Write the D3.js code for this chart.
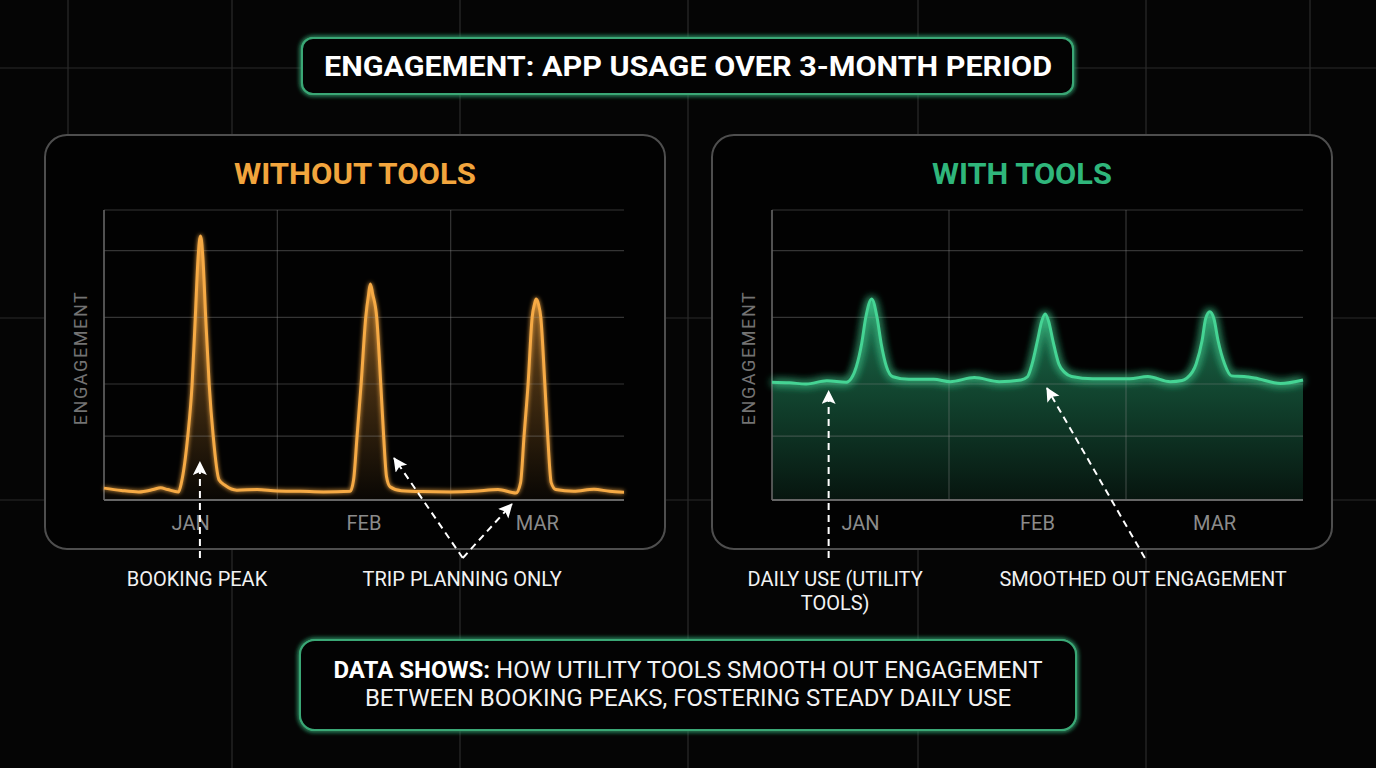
<!DOCTYPE html>
<html><head><meta charset="utf-8">
<script src="https://cdn.jsdelivr.net/npm/d3@7"></script>
<style>html,body{margin:0;padding:0;background:#050505;overflow:hidden}</style>
</head><body><svg id="c" width="1376" height="768"></svg>
<script>
// ---------- DATA ----------
const months = ["JAN", "FEB", "MAR"];
const gridValues = [22, 40, 63, 86, 100];
const titleText = "ENGAGEMENT: APP USAGE OVER 3-MONTH PERIOD";
const panelTitles = ["WITHOUT TOOLS", "WITH TOOLS"];
const yAxisLabel = "ENGAGEMENT";
const footerBold = "DATA SHOWS:";
const footerLine1 = " HOW UTILITY TOOLS SMOOTH OUT ENGAGEMENT";
const footerLine2 = "BETWEEN BOOKING PEAKS, FOSTERING STEADY DAILY USE";

// day of quarter (0..90) and engagement (0..100)
const withoutDays = [0, 3, 6, 8.5, 9.8, 11, 12.9, 13.4, 14.5, 15.25, 15.8, 16.3, 16.7, 17.1, 17.6, 18.2, 18.9, 19.9, 21, 23, 26.5, 30, 34, 38, 42.6, 43.2, 43.8, 44.5, 45.3, 45.8, 46.1, 46.5, 47.2, 47.9, 48.4, 48.9, 49.5, 51.5, 55, 60, 64, 68.2, 71.3, 72.1, 72.7, 73.4, 74.1, 74.5, 74.8, 75.2, 75.6, 76.3, 76.8, 77.4, 78.2, 81.3, 84.8, 87.5, 90];
const withoutValues = [4.1, 3.3, 2.8, 3.6, 4.2, 3.6, 2.8, 6, 22, 40, 63, 84, 91, 84, 63, 40, 22, 7, 5, 3.4, 3.6, 3.1, 3.0, 2.8, 3.0, 7, 22, 40, 63, 71, 74.5, 71, 63, 40, 22, 8, 4.6, 3.2, 2.9, 2.8, 3.0, 3.6, 2.4, 6, 22, 40, 63, 67.5, 69.3, 67.5, 63, 40, 22, 6, 3.6, 3.0, 3.7, 3.0, 2.7];

const withDays = [0, 3, 5.8, 9.3, 12.6, 13.4, 14.3, 15.2, 15.9, 16.9, 17.8, 18.5, 19.4, 20.5, 23.2, 27.4, 30.2, 34.3, 38.5, 42.2, 43.3, 44.1, 45.0, 45.7, 46.3, 46.9, 47.6, 48.6, 49.6, 50.8, 54.4, 60.6, 63.7, 67.5, 69.5, 70.3, 71.9, 72.9, 73.5, 74.2, 74.9, 75.6, 76.7, 77.9, 80, 81.8, 86.2, 90];
const withValues = [40.6, 40.4, 40.0, 41.1, 40.6, 41.8, 46, 54, 63, 69.3, 63, 54, 46, 42.5, 41.6, 41.6, 40.8, 42.2, 40.8, 41.4, 42.5, 47, 55, 61.5, 64.1, 61.5, 55, 47, 44, 42.6, 41.8, 41.8, 42.6, 40.8, 41.2, 42, 47, 55, 62.5, 64.9, 62.5, 55, 47, 42.8, 42.6, 42.1, 40.2, 41.4];

// annotations: label centre (day), arrow origin (day), arrow targets [day, value]
const withoutNotes = [
  { lines: ["BOOKING PEAK"], labelDay: 16.1, fromDay: 16.6, targets: [[16.6, 13.1]] },
  { lines: ["TRIP PLANNING ONLY"], labelDay: 62, fromDay: 62.1, targets: [[50.2, 14.5], [70.6, -1.4]] }
];
const withNotes = [
  { lines: ["DAILY USE (UTILITY", "TOOLS)"], labelDay: 10.7, fromDay: 9.6, targets: [[9.6, 37.6]] },
  { lines: ["SMOOTHED OUT ENGAGEMENT"], labelDay: 62.9, fromDay: 63.2, targets: [[46.6, 38.6]] }
];

// ---------- DRAW ----------
const W = 1376, H = 768;
const svg = d3.select("#c");
const FONT = "Roboto, 'Open Sans', sans-serif";
const defs = svg.append("defs");

function glow(id, sd, n) {
  const f = defs.append("filter").attr("id", id)
    .attr("x", "-10%").attr("y", "-30%").attr("width", "120%").attr("height", "160%");
  f.append("feGaussianBlur").attr("in", "SourceGraphic").attr("stdDeviation", sd).attr("result", "b");
  const m = f.append("feMerge");
  for (let i = 0; i < n; i++) m.append("feMergeNode").attr("in", "b");
  m.append("feMergeNode").attr("in", "SourceGraphic");
}
glow("glowO", 2, 1);
glow("glowG", 4, 2);
glow("glowBox", 2.5, 2);

defs.append("marker").attr("id", "arrow")
  .attr("markerUnits", "userSpaceOnUse")
  .attr("markerWidth", 16).attr("markerHeight", 16)
  .attr("refX", 13).attr("refY", 7).attr("orient", "auto")
  .append("path").attr("d", "M0,0 L14,7 L0,14 L3,7 Z").attr("fill", "#fff");

// background grid
const bg = svg.append("g");
bg.append("rect").attr("width", W).attr("height", H).attr("fill", "#050505");
[232, 460, 688, 918, 1146].forEach(x => bg.append("line")
  .attr("x1", x).attr("x2", x).attr("y1", 0).attr("y2", H).attr("stroke", "#2b2b2b").attr("stroke-width", 1.2));
[[68, 0, 140], [1310, 0, 140]].forEach(([x, a, b]) => bg.append("line")
  .attr("x1", x).attr("x2", x).attr("y1", a).attr("y2", b).attr("stroke", "#2b2b2b").attr("stroke-width", 1.2));
[68, 318, 500].forEach(y => bg.append("line")
  .attr("x1", 0).attr("x2", W).attr("y1", y).attr("y2", y).attr("stroke", "#2b2b2b").attr("stroke-width", 1.2));

// boxes
function box(x, y, w, h, r) {
  svg.append("rect").attr("x", x).attr("y", y).attr("width", w).attr("height", h).attr("rx", r)
    .attr("fill", "#030303").attr("stroke", "#3aa775").attr("stroke-width", 2.2)
    .attr("filter", "url(#glowBox)");
  svg.append("rect").attr("x", x).attr("y", y).attr("width", w).attr("height", h).attr("rx", r)
    .attr("fill", "#030303").attr("stroke", "#3aa775").attr("stroke-width", 2);
}
box(302, 38, 771, 56, 11);
svg.append("text").attr("x", 688).attr("y", 67).attr("text-anchor", "middle")
  .attr("dominant-baseline", "central").attr("fill", "#fff")
  .attr("font-family", FONT).attr("font-weight", 700).attr("font-size", 27)
  .attr("textLength", 728).attr("lengthAdjust", "spacingAndGlyphs")
  .text(titleText);

function drawPanel(cfg) {
  const g = svg.append("g");
  g.append("rect").attr("x", cfg.bx).attr("y", 135).attr("width", 620).attr("height", 414).attr("rx", 22)
    .attr("fill", "#020202").attr("stroke", "#4e4e4e").attr("stroke-width", 2);
  g.append("text").attr("x", cfg.bx + 310).attr("y", 173).attr("text-anchor", "middle")
    .attr("dominant-baseline", "central").attr("fill", cfg.titleColor)
    .attr("font-family", FONT).attr("font-weight", 700).attr("font-size", 30)
    .attr("textLength", cfg.titleLen).attr("lengthAdjust", "spacingAndGlyphs")
    .text(cfg.title);

  const x = d3.scaleLinear().domain([0, 90]).range([cfg.px0, cfg.px1]);
  const y = d3.scaleLinear().domain([0, 100]).range([500, 210]);
  const band = d3.scaleBand().domain(months).range([cfg.px0, cfg.px1]);

  const grad = defs.append("linearGradient").attr("id", cfg.gradId)
    .attr("gradientUnits", "userSpaceOnUse").attr("x1", 0).attr("x2", 0)
    .attr("y1", y(cfg.gradTop)).attr("y2", y(0));
  cfg.stops.forEach(s => grad.append("stop").attr("offset", s[0]).attr("stop-color", cfg.color).attr("stop-opacity", s[1]));

  const pts = cfg.days.map((d, i) => [d, cfg.values[i]]);
  const area = d3.area().x(d => x(d[0])).y0(y(0)).y1(d => y(d[1])).curve(d3.curveMonotoneX);
  const line = d3.line().x(d => x(d[0])).y(d => y(d[1])).curve(d3.curveMonotoneX);

  g.append("path").attr("d", area(pts)).attr("fill", `url(#${cfg.gradId})`);

  const grid = g.append("g");
  grid.selectAll("line.h").data(gridValues).join("line")
    .attr("x1", cfg.px0).attr("x2", cfg.px1).attr("y1", d => y(d)).attr("y2", d => y(d))
    .attr("stroke", "#8a8a8a").attr("stroke-opacity", 0.38).attr("stroke-width", 1.2);
  grid.selectAll("line.v").data(months.slice(1)).join("line")
    .attr("x1", d => band(d)).attr("x2", d => band(d)).attr("y1", y(100)).attr("y2", y(0))
    .attr("stroke", "#8a8a8a").attr("stroke-opacity", 0.38).attr("stroke-width", 1.2);
  g.append("line").attr("x1", cfg.px0).attr("x2", cfg.px0).attr("y1", y(100)).attr("y2", y(0))
    .attr("stroke", "#666").attr("stroke-width", 1.6);
  g.append("line").attr("x1", cfg.px0).attr("x2", cfg.px1).attr("y1", y(0)).attr("y2", y(0))
    .attr("stroke", "#666").attr("stroke-width", 2);

  g.append("path").attr("d", line(pts)).attr("fill", "none").attr("stroke", cfg.lineColor)
    .attr("stroke-width", 3).attr("stroke-linejoin", "round").attr("filter", `url(#${cfg.glowId})`);

  const ax = g.append("g").attr("transform", `translate(0,${y(0)})`)
    .call(d3.axisBottom(band).tickSize(0).tickPadding(16));
  ax.select(".domain").remove();
  ax.selectAll("text").attr("fill", "#8b8b8b").attr("font-family", FONT).attr("font-size", 20)
    .attr("dy", "0.71em");

  g.append("text").attr("transform", `translate(${cfg.px0 - 24},${y(49)}) rotate(-90)`)
    .attr("text-anchor", "middle").attr("dominant-baseline", "central")
    .attr("fill", "#737373").attr("font-family", FONT).attr("font-size", 18)
    .attr("letter-spacing", 1.6).text(yAxisLabel);

  cfg.notes.forEach(n => {
    n.targets.forEach(t => {
      svg.append("line").attr("x1", x(n.fromDay)).attr("y1", y(0) + 58)
        .attr("x2", x(t[0])).attr("y2", y(t[1]))
        .attr("stroke", "#fff").attr("stroke-width", 2).attr("stroke-dasharray", "7,5")
        .attr("marker-end", "url(#arrow)");
    });
    const t = svg.append("text").attr("text-anchor", "middle").attr("fill", "#f2f2f2")
      .attr("font-family", FONT).attr("font-size", 20);
    n.lines.forEach((l, i) => t.append("tspan").attr("x", x(n.labelDay))
      .attr("y", y(0) + 79 + i * 24).attr("dominant-baseline", "central").text(l));
  });
}

drawPanel({
  bx: 45, px0: 104, px1: 624, title: panelTitles[0], titleColor: "#f2a53d", titleLen: 242,
  color: "#f4a13a", lineColor: "#f6aa45", gradId: "gO", glowId: "glowO", gradTop: 90,
  stops: [[0, 0.7], [0.5, 0.3], [1, 0.03]],
  days: withoutDays, values: withoutValues, notes: withoutNotes
});
drawPanel({
  bx: 712, px0: 772, px1: 1303, title: panelTitles[1], titleColor: "#2fb67b", titleLen: 180,
  color: "#2fc184", lineColor: "#45d494", gradId: "gG", glowId: "glowG", gradTop: 70,
  stops: [[0, 0.6], [0.45, 0.36], [1, 0.1]],
  days: withDays, values: withValues, notes: withNotes
});

box(300, 640, 776, 90, 15);
const f1 = svg.append("text").attr("x", 688).attr("y", 670).attr("text-anchor", "middle")
  .attr("dominant-baseline", "central").attr("fill", "#f2f2f2")
  .attr("font-family", FONT).attr("font-size", 24);
f1.append("tspan").attr("font-weight", 700).attr("fill", "#fff").text(footerBold);
f1.append("tspan").text(footerLine1);
svg.append("text").attr("x", 688).attr("y", 698).attr("text-anchor", "middle")
  .attr("dominant-baseline", "central").attr("fill", "#f2f2f2")
  .attr("font-family", FONT).attr("font-size", 24).text(footerLine2);
</script></body></html>
